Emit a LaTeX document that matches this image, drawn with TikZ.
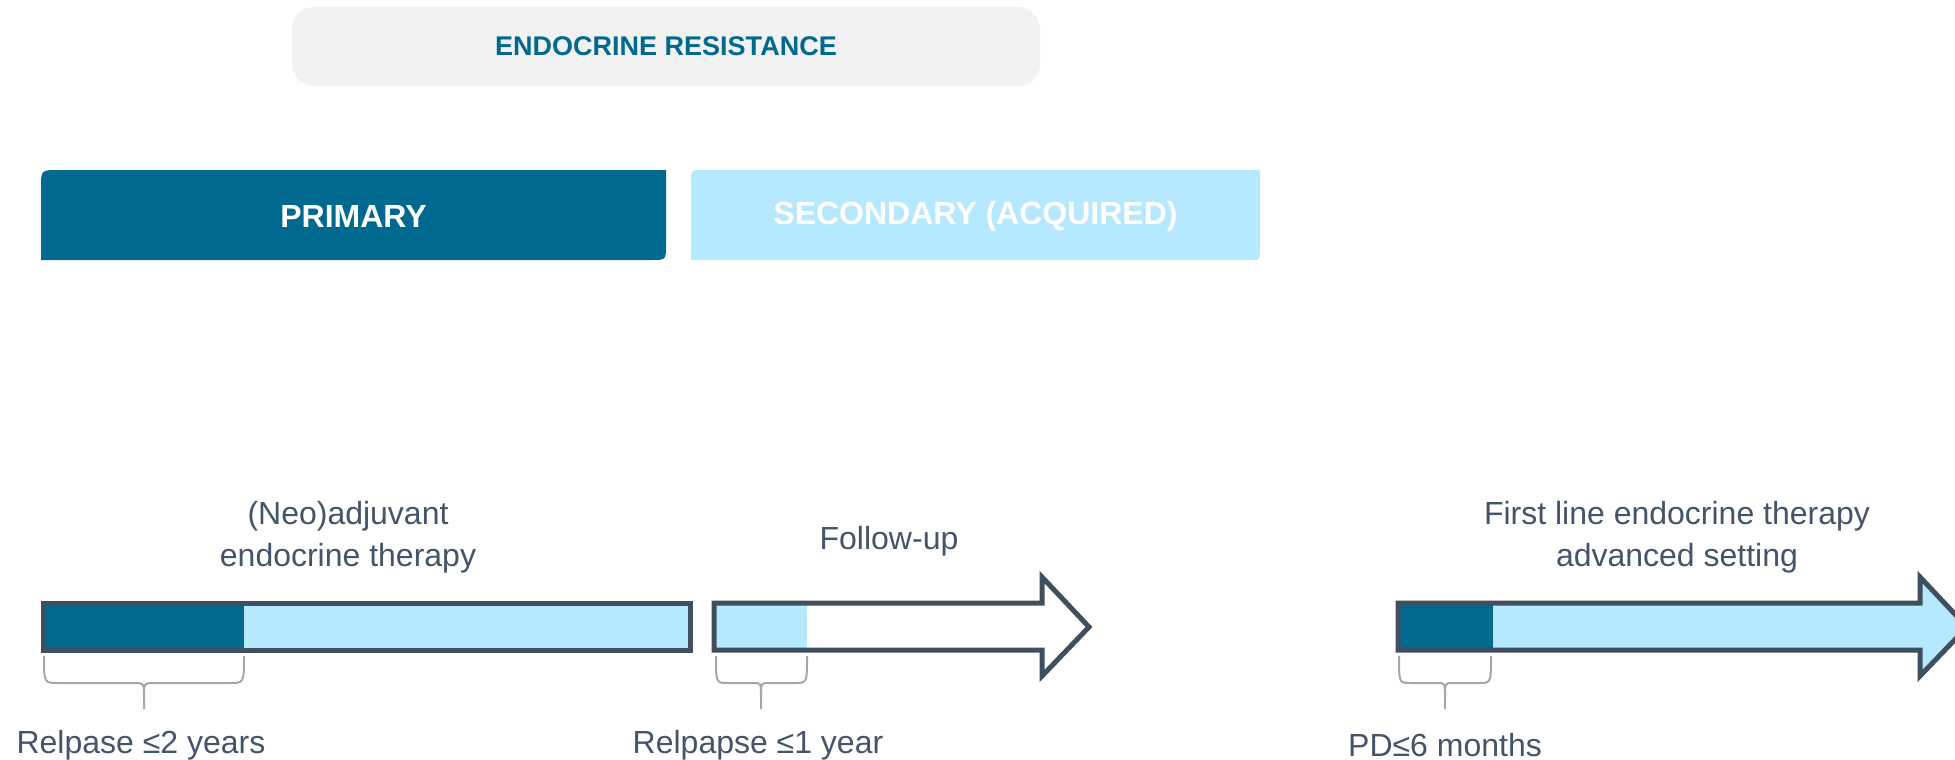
\documentclass[tikz,border=0pt]{standalone}
\usepackage{fontspec}
\setmainfont{Liberation Sans}
\definecolor{darkblue}{HTML}{006990}
\definecolor{lightblue}{HTML}{B7E9FE}
\definecolor{outline}{HTML}{404F5D}
\definecolor{labelgray}{HTML}{44546A}
\definecolor{boxgray}{HTML}{F2F2F2}
\definecolor{bracegray}{HTML}{A6A6A6}
\tikzset{
  lbl/.style={text=labelgray, inner sep=0pt, align=center, font=\fontsize{16}{21}\selectfont},
  headtxt/.style={text=white, inner sep=0pt, font=\bfseries\fontsize{16}{19}\selectfont},
  titlebox/.style={fill=boxgray, rounded corners=11pt, minimum width=374pt, minimum height=39.5pt, inner sep=0pt, text=darkblue, font=\bfseries\fontsize{13.5}{16}\selectfont},
  barline/.style={draw=outline, line width=2.5pt, line join=miter},
  bracestyle/.style={draw=bracegray, line width=1pt}
}
\begin{document}
\begin{tikzpicture}[x=0.5pt, y=-0.5pt]
\clip (0,0) rectangle (1955,760);
\useasboundingbox (0,0) rectangle (1955,760);

% title
\node[titlebox] (title) at (666,46.5) {\raisebox{-1pt}{ENDOCRINE RESISTANCE}};

% primary / secondary boxes
\fill[darkblue] (41,260) -- (41,188) .. controls (41,170) .. (59,170) -- (666,170) -- (666,245) .. controls (666,260) .. (651,260) -- cycle;
\node[headtxt] (primary) at (353.5,216) {PRIMARY};
\fill[lightblue] (691,260) -- (691,181) .. controls (691,170) .. (702,170) -- (1260,170) -- (1260,251) .. controls (1260,260) .. (1251,260) -- cycle;
\node[headtxt] (secondary) at (975.5,216) {SECONDARY (ACQUIRED)};

% bar 1: (neo)adjuvant therapy
\fill[darkblue] (43,603) rectangle (244,650);
\fill[lightblue] (244,603) rectangle (690,650);
\draw[barline] (43,603) rectangle (690,650);

% follow-up arrow
\fill[white] (714,603) -- (1042,603) -- (1042,577) -- (1089,627) -- (1042,676) -- (1042,650) -- (714,650) -- cycle;
\fill[lightblue] (714,603) rectangle (807,650);
\draw[barline] (714,603) -- (1042,603) -- (1042,577) -- (1089,627) -- (1042,676) -- (1042,650) -- (714,650) -- cycle;

% first-line arrow
\fill[lightblue] (1398,603) -- (1920,603) -- (1920,577) -- (1967,627) -- (1920,676) -- (1920,650) -- (1398,650) -- cycle;
\fill[darkblue] (1398,603) rectangle (1493,650);
\draw[barline] (1398,603) -- (1920,603) -- (1920,577) -- (1967,627) -- (1920,676) -- (1920,650) -- (1398,650) -- cycle;

% braces
\draw[bracestyle] (44,656) .. controls (44,683) .. (58,683) -- (134,683) .. controls (144,683) .. (144,696) -- (144,709);
\draw[bracestyle] (244,656) .. controls (244,683) .. (230,683) -- (154,683) .. controls (144,683) .. (144,696);
\draw[bracestyle] (716,656) .. controls (716,683) .. (728,683) -- (753,683) .. controls (761,683) .. (761,696) -- (761,709);
\draw[bracestyle] (807,656) .. controls (807,683) .. (795,683) -- (769,683) .. controls (761,683) .. (761,696);
\draw[bracestyle] (1399,656) .. controls (1399,683) .. (1411,683) -- (1437,683) .. controls (1445,683) .. (1445,696) -- (1445,709);
\draw[bracestyle] (1491,656) .. controls (1491,683) .. (1479,683) -- (1453,683) .. controls (1445,683) .. (1445,696);

% labels
\node[lbl] (neo) at (348,537) {(Neo)adjuvant\\endocrine therapy};
\node[lbl] (follow) at (889,541) {Follow-up};
\node[lbl] (firstline) at (1677,537) {First line endocrine therapy\\advanced setting};
\node[lbl] (rel2) at (141,745) {Relpase ≤2 years};
\node[lbl] (rel1) at (758,745) {Relpapse ≤1 year};
\node[lbl] (pd6) at (1445,745) {PD≤6 months};
\end{tikzpicture}
\end{document}
